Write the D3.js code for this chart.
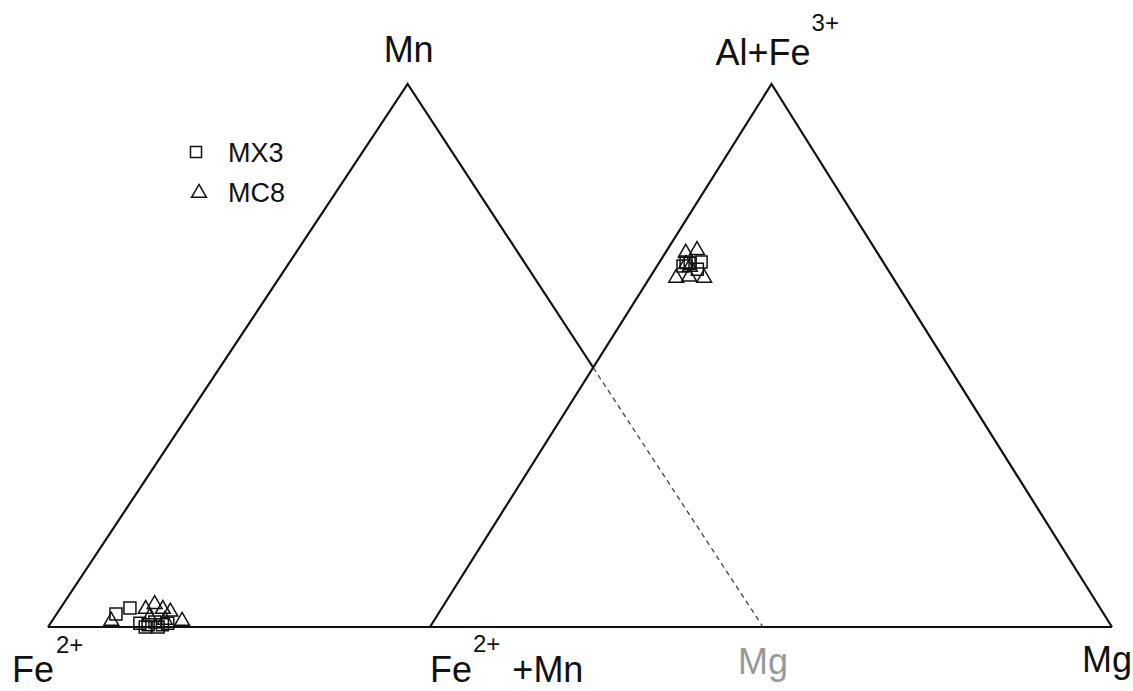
<!DOCTYPE html>
<html>
<head>
<meta charset="utf-8">
<script src="https://cdn.jsdelivr.net/npm/d3@7"></script>
<style>
    body { margin: 0; background: #fff; }
    svg { display: block; font-family: "Liberation Sans", Arial, sans-serif; }
</style>
</head>
<body>
<svg id="chart"></svg>
<script>
// corners of both triangles, in base units (0 = Fe2+, 1 = Mg)
const leftCorners = {fe: 0, apex: 0.338, mg: 0.672};
const rightCorners = {feMn: 0.359, apex: 0.680, mg: 1};

// Fe2+ - Mn - Mg diagram: [Mn, Mg] fractions (rest is Fe2+)
const mx3Left = [
    [0.024, 0.083], [0.035, 0.097], [0.007, 0.125], [0.004, 0.138],
    [0.009, 0.145], [0.004, 0.158], [0.007, 0.164], [0.000, 0.136],
    [0.000, 0.154]
];
const mc8Left = [
    [0.011, 0.083], [0.033, 0.120], [0.042, 0.128], [0.033, 0.144],
    [0.028, 0.157], [0.011, 0.182], [0.018, 0.133], [0.013, 0.157]
];

// (Fe2+ +Mn) - (Al+Fe3+) - Mg diagram: [Al+Fe3+, Mg] fractions
const mx3Right = [
    [0.672, 0.039], [0.670, 0.046], [0.665, 0.038], [0.672, 0.061],
    [0.659, 0.062]
];
const mc8Right = [
    [0.689, 0.030], [0.694, 0.044], [0.663, 0.049], [0.643, 0.039],
    [0.645, 0.057], [0.643, 0.080], [0.668, 0.041]
];

const seriesNames = ['MX3', 'MC8'];

const WIDTH = 1133;
const HEIGHT = 691;
const INK = '#111';

const x = d3.scaleLinear().domain([0, 1]).range([48, 1112]);
const y = d3.scaleLinear().domain([0, 1]).range([627, 84]);

const svg = d3.select('#chart')
    .attr('width', WIDTH)
    .attr('height', HEIGHT);

// ternary -> base units
function leftPos(d) {
    return [leftCorners.fe + d[0] * (leftCorners.apex - leftCorners.fe) + d[1] * (leftCorners.mg - leftCorners.fe), d[0]];
}
function rightPos(d) {
    return [rightCorners.feMn + d[0] * (rightCorners.apex - rightCorners.feMn) + d[1] * (rightCorners.mg - rightCorners.feMn), d[0]];
}

// intersection of Mn-Mg edge with (Fe+Mn)-(Al+Fe) edge
function crossing() {
    const ax = leftCorners.apex, bx = leftCorners.mg;
    const cx = rightCorners.feMn, dx = rightCorners.apex;
    const v = (ax + (bx - ax) - cx) / ((dx - cx) + (bx - ax));
    return [cx + (dx - cx) * v, v];
}

const line = d3.line().x((d) => x(d[0])).y((d) => y(d[1]));
const frame = svg.append('g');

// base line
frame.append('path')
    .attr('d', line([[0, 0], [1, 0]]))
    .attr('stroke', INK)
    .attr('stroke-width', 2.2)
    .attr('fill', 'none');

const cross = crossing();

// left triangle: Fe2+ -> Mn -> crossing solid, then dashed to Mg
frame.append('path')
    .attr('d', line([[leftCorners.fe, 0], [leftCorners.apex, 1], cross]))
    .attr('stroke', INK)
    .attr('stroke-width', 2.2)
    .attr('fill', 'none');

frame.append('path')
    .attr('d', line([cross, [leftCorners.mg, 0]]))
    .attr('stroke', '#444')
    .attr('stroke-width', 1.3)
    .attr('stroke-dasharray', '5,4')
    .attr('fill', 'none');

// right triangle
frame.append('path')
    .attr('d', line([[rightCorners.feMn, 0], [rightCorners.apex, 1], [rightCorners.mg, 0]]))
    .attr('stroke', INK)
    .attr('stroke-width', 2.2)
    .attr('fill', 'none');

const squareSym = d3.symbol().type(d3.symbolSquare).size(144);
const triangleSym = d3.symbol().type(d3.symbolTriangle).size(95);

function drawPoints(data, posFn, sym) {
    svg.append('g')
        .selectAll('path')
        .data(data)
        .enter()
        .append('path')
        .attr('d', sym)
        .attr('transform', (d) => {
            const p = posFn(d);
            return `translate(${x(p[0])}, ${y(p[1])})`;
        })
        .attr('fill', 'none')
        .attr('stroke', INK)
        .attr('stroke-width', 1.5);
}

drawPoints(mx3Left, leftPos, squareSym);
drawPoints(mc8Left, leftPos, triangleSym);
drawPoints(mx3Right, rightPos, squareSym);
drawPoints(mc8Right, rightPos, triangleSym);

// legend
const legend = svg.append('g').attr('transform', 'translate(196, 152)');
legend.selectAll('path')
    .data(seriesNames)
    .enter()
    .append('path')
    .attr('d', (d, i) => (i === 0 ? d3.symbol().type(d3.symbolSquare).size(121)() : d3.symbol().type(d3.symbolTriangle).size(95)()))
    .attr('transform', (d, i) => `translate(${i * 3}, ${i * 41})`)
    .attr('fill', 'none')
    .attr('stroke', INK)
    .attr('stroke-width', 1.5);
legend.selectAll('text')
    .data(seriesNames)
    .enter()
    .append('text')
    .attr('x', 32)
    .attr('y', (d, i) => 10 + i * 40)
    .style('font-size', '27px')
    .attr('fill', INK)
    .text((d) => d);

// corner labels
function label(px, py, main, sup, color, supDx, supDy) {
    const t = svg.append('text')
        .attr('x', px)
        .attr('y', py)
        .attr('fill', color || INK)
        .style('font-size', '36px');
    t.append('tspan').text(main);
    if (sup) {
        t.append('tspan')
            .attr('dx', supDx || 2)
            .attr('dy', supDy || -28)
            .style('font-size', '24px')
            .text(sup);
    }
    return t;
}

label(x(leftCorners.apex) - 24, 62, 'Mn');
label(x(rightCorners.apex) - 56, 65, 'Al+Fe', '3+', INK, 1, -34);
label(12, 682, 'Fe', '2+', INK, 2, -29);

const mid = svg.append('text')
    .attr('x', x(rightCorners.feMn))
    .attr('y', 682)
    .attr('fill', INK)
    .style('font-size', '36px');
mid.append('tspan').text('Fe');
mid.append('tspan').attr('dx', 1).attr('dy', -30).style('font-size', '24px').text('2+');
mid.append('tspan').attr('dx', 12).attr('dy', 30).text('+Mn');

label(x(leftCorners.mg) - 25, 674, 'Mg', null, '#999');
label(x(rightCorners.mg) - 30, 672, 'Mg');
</script>
</body>
</html>
